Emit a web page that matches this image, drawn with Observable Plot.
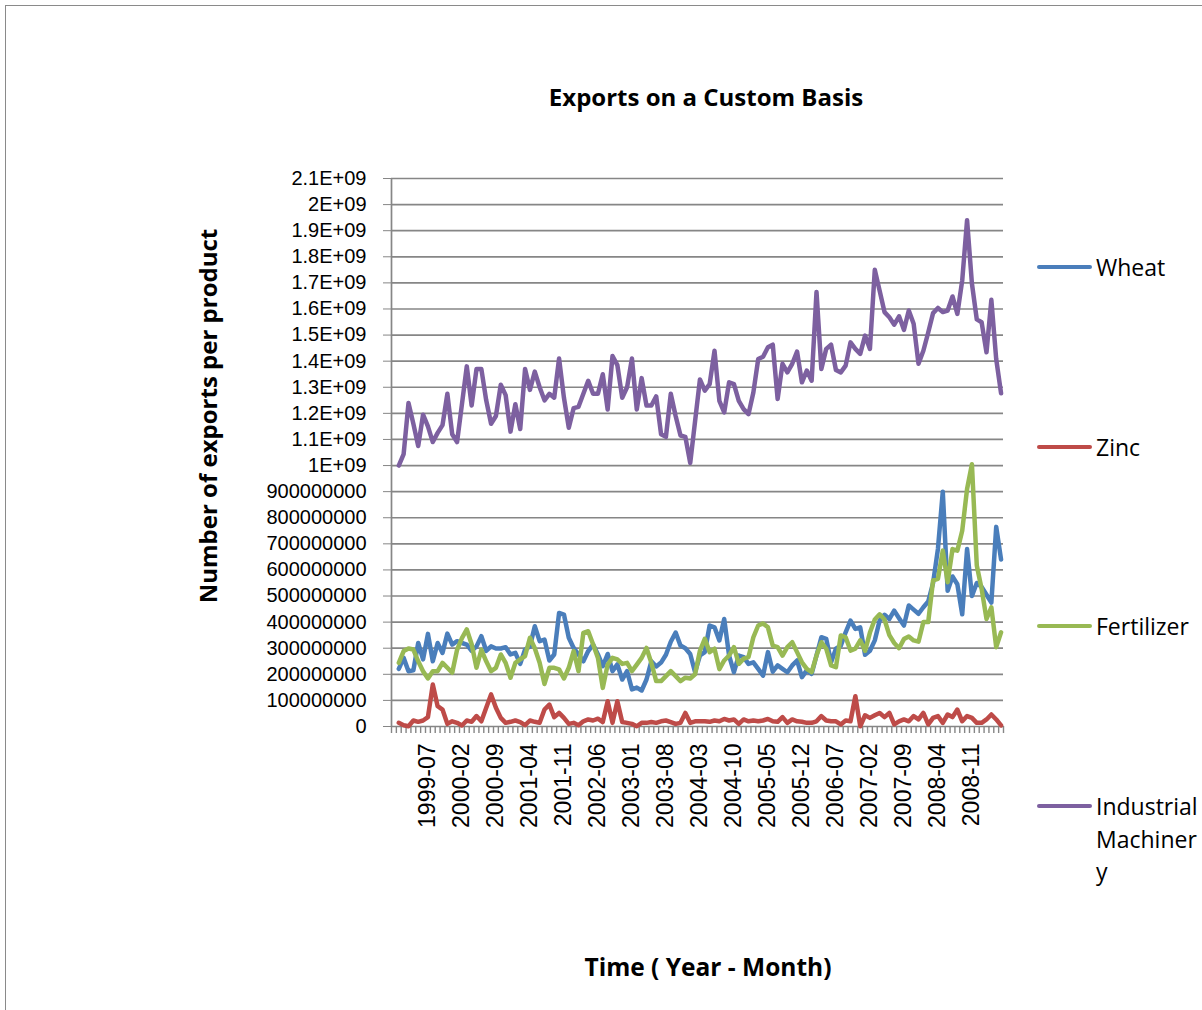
<!DOCTYPE html>
<html>
<head>
<meta charset="utf-8">
<script src="https://cdn.jsdelivr.net/npm/d3@7"></script>
<script src="https://cdn.jsdelivr.net/npm/@observablehq/plot@0.6"></script>
<style>
  body { margin: 0; background: #fff; }
  #wrap { position: relative; width: 1202px; height: 1010px; overflow: hidden; background: #fff; }
  #frame { position: absolute; left: 5px; top: 5px; width: 1230px; height: 1030px; border: 1px solid #8a8a8a; box-sizing: border-box; }
  #chart { position: absolute; left: 0; top: 0; }
  .ttl { position: absolute; font-family: "Open Sans", Lato, sans-serif; font-weight: bold; color: #000; white-space: nowrap; transform: translate(-50%, -50%); }
  .leg-line { position: absolute; height: 4px; border-radius: 2px; }
  .leg-text { position: absolute; font-family: "Open Sans", Lato, sans-serif; font-size: 23px; color: #000; white-space: nowrap; transform: translate(0, -50%); }
</style>
</head>
<body>
<div id="wrap">
  <div id="frame"></div>
  <div id="chart"></div>
</div>
<script>
// ---- data (values in millions of exports) ----
const seriesNames = ["Wheat", "Zinc", "Fertilizer", "Industrial Machinery"];
const seriesColors = ["#4a7ebb", "#be4b48", "#98b954", "#7d60a0"];

// months 1999-01 .. 2009-05 (125 categories); one blank leading category slot in the axis
const months = d3.utcMonths(new Date(Date.UTC(1999, 0, 1)), new Date(Date.UTC(2009, 5, 1))).map(d3.utcFormat("%Y-%m"));

const wheat = [221,263,212,215,320,257,355,250,320,282,356,314,327,320,314,290,307,346,290,307,
  299,299,304,276,282,240,295,307,384,327,333,253,276,435,429,340,301,276,250,289,
  314,276,231,278,212,238,180,212,142,149,138,180,250,230,245,275,325,360,310,300,
  278,208,272,285,387,380,330,412,272,208,272,266,240,246,221,195,285,210,234,221,
  208,234,253,189,215,202,272,342,336,246,298,310,361,406,374,380,275,290,330,406,
  428,412,444,415,387,464,448,432,457,479,550,680,900,520,575,545,430,680,500,550,
  535,505,475,765,640];

const zinc = [14,5,1,23,18,23,36,161,78,65,10,20,14,4,23,18,40,20,72,123,
  72,33,14,18,23,17,5,23,18,14,65,84,36,52,33,10,14,5,20,27,
  23,30,17,97,14,97,17,14,10,1,14,14,17,14,20,23,17,10,14,52,
  14,20,20,20,18,23,20,29,23,27,10,27,20,23,20,23,29,20,18,36,
  14,27,20,18,14,14,20,40,23,20,20,8,23,20,116,1,43,33,43,52,
  36,52,8,20,27,20,40,27,52,8,33,40,14,46,36,65,20,40,33,14,
  14,27,46,27,4];

const fertilizer = [244,289,299,295,250,212,184,212,212,244,225,206,294,339,372,315,225,294,250,212,
  225,276,244,187,244,257,270,340,300,244,163,225,225,219,184,225,289,212,359,365,
  315,263,148,237,263,257,240,244,212,237,263,301,244,174,174,193,212,193,174,187,
  184,200,290,336,285,298,220,253,272,304,240,260,266,342,387,395,380,310,304,272,
  304,323,285,246,221,208,272,323,298,234,227,349,342,291,298,330,290,360,410,430,
  410,350,320,300,335,345,330,325,400,400,560,566,674,553,680,674,750,910,1005,617,
  527,412,457,304,361];

const machinery = [1000,1044,1240,1160,1075,1195,1150,1090,1125,1155,1275,1120,1090,1235,1380,1230,1370,1370,1250,1160,
  1190,1310,1270,1130,1235,1140,1370,1290,1360,1300,1250,1275,1260,1410,1260,1145,1220,1225,1275,1325,
  1275,1275,1350,1215,1420,1385,1260,1300,1410,1215,1335,1230,1230,1265,1120,1110,1275,1190,1115,1110,
  1010,1170,1330,1287,1312,1440,1248,1204,1319,1312,1248,1216,1197,1280,1408,1417,1453,1463,1255,1390,
  1357,1390,1437,1319,1364,1325,1665,1370,1447,1463,1366,1357,1383,1472,1447,1428,1498,1447,1750,1670,
  1588,1568,1540,1572,1520,1594,1543,1390,1440,1510,1584,1604,1588,1594,1648,1581,1709,1940,1697,1560,
  1549,1434,1635,1408,1277];

// tick labels
const xTickLabels = ["1999-07","2000-02","2000-09","2001-04","2001-11","2002-06","2003-01","2003-08","2004-03",
  "2004-10","2005-05","2005-12","2006-07","2007-02","2007-09","2008-04","2008-11"];
const yTickValues = [0,100,200,300,400,500,600,700,800,900,1000,1100,1200,1300,1400,1500,1600,1700,1800,1900,2000,2100];
const yTickLabels = ["0","100000000","200000000","300000000","400000000","500000000","600000000","700000000",
  "800000000","900000000","1E+09","1.1E+09","1.2E+09","1.3E+09","1.4E+09","1.5E+09","1.6E+09","1.7E+09",
  "1.8E+09","1.9E+09","2E+09","2.1E+09"];

// ---- build ----
const allSeries = [wheat, zinc, fertilizer, machinery];
const rows = allSeries.flatMap((arr, s) => arr.map((v, i) => ({name: seriesNames[s], idx: i, month: months[i], value: v})));

// category slot boundaries (one leading empty slot + one slot per month)
const bounds = d3.range(-1.5, months.length, 1);
const labelIdx = xTickLabels.map(l => months.indexOf(l));
const gray = "#868686";

const chart = Plot.plot({
  width: 1202,
  height: 860,
  marginLeft: 391,
  marginRight: 199,
  marginTop: 178,
  marginBottom: 134,
  x: {type: "linear", domain: [-1.5, months.length - 0.5]},
  y: {domain: [0, 2100]},
  color: {domain: seriesNames, range: seriesColors},
  style: {fontFamily: "'Liberation Sans', Arial, sans-serif", fontSize: "20px", color: "#000", background: "transparent", overflow: "visible"},
  marks: [
    Plot.gridY(yTickValues, {stroke: gray, strokeOpacity: 1, strokeWidth: 1.7}),
    Plot.ruleX([-1.5], {stroke: gray, strokeWidth: 1.7}),
    Plot.axisY(yTickValues, {tickSize: 8, tickPadding: 17, stroke: gray, fill: "#000",
      tickFormat: d => yTickLabels[yTickValues.indexOf(d)], label: null}),
    Plot.axisX(bounds, {tickSize: 7, stroke: gray, strokeWidth: 1.4, fill: "none", tickFormat: () => "", label: null}),
    Plot.axisX(labelIdx, {tickSize: 0, tickPadding: 17, tickRotate: -90, fill: "#000", fontSize: 23,
      tickFormat: d => months[d], label: null}),
    Plot.line(rows, {x: "idx", y: "value", z: "name", stroke: "name", strokeWidth: 4.5,
      strokeLinejoin: "round", strokeLinecap: "round"})
  ]
});
chart.id = "chart";
document.getElementById("chart").replaceWith(chart);
chart.style.position = "absolute";
chart.style.left = "0px";
chart.style.top = "0px";

const wrap = document.getElementById("wrap");
function addText(cls, text, css) {
  const d = document.createElement("div");
  d.className = cls;
  d.textContent = text;
  Object.assign(d.style, css);
  wrap.appendChild(d);
  return d;
}
addText("ttl", "Exports on a Custom Basis", {left: "706px", top: "96px", fontSize: "24px"});
addText("ttl", "Number of exports per product", {left: "207px", top: "416px", fontSize: "24px", transform: "translate(-50%, -50%) rotate(-90deg)"});
addText("ttl", "Time ( Year - Month)", {left: "708px", top: "966px", fontSize: "24.5px"});

// legend
const legendY = [267, 447, 626, 806];
const legendLines = [["Wheat"], ["Zinc"], ["Fertilizer"], ["Industrial", "Machiner", "y"]];
seriesNames.forEach((name, i) => {
  const ln = document.createElement("div");
  ln.className = "leg-line";
  Object.assign(ln.style, {left: "1037px", width: "55px", top: (legendY[i] - 2) + "px", background: seriesColors[i]});
  wrap.appendChild(ln);
  legendLines[i].forEach((t, k) => addText("leg-text", t, {left: "1096px", top: (legendY[i] + k * 32.5) + "px"}));
});
</script>
</body>
</html>
